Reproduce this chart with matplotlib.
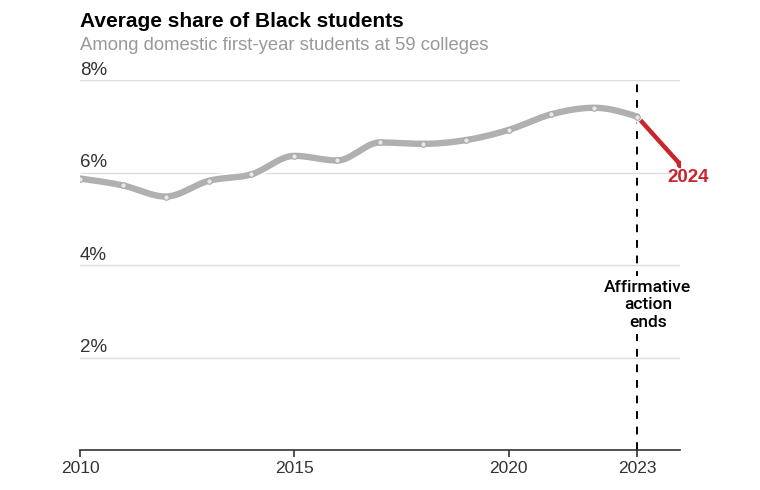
import numpy as np
import matplotlib
matplotlib.use("Agg")
import matplotlib.pyplot as plt
import matplotlib.patheffects as pe

years = [2010, 2011, 2012, 2013, 2014, 2015, 2016, 2017, 2018, 2019, 2020, 2021, 2022, 2023, 2024]
share = [5.87, 5.72, 5.48, 5.82, 5.96, 6.36, 6.26, 6.65, 6.62, 6.70, 6.92, 7.26, 7.40, 7.21, 6.18]
y_ticks = [2, 4, 6, 8]
y_tick_labels = ["2%", "4%", "6%", "8%"]
x_ticks = [2010, 2015, 2020, 2023]
x_tick_labels = ["2010", "2015", "2020", "2023"]
title = "Average share of Black students"
subtitle = "Among domestic first-year students at 59 colleges"
event_year = 2023
event_label = "Affirmative\naction\nends"
last_label = "2024"

GRAY = "#b0b0b0"
RED = "#c9252c"
FONT = ["Liberation Sans", "DejaVu Sans"]
plt.rcParams["font.family"] = FONT


def monotone(x, y, n=30):
    x = np.asarray(x, float); y = np.asarray(y, float)
    h = np.diff(x); s = np.diff(y) / h
    m = np.zeros_like(y)
    for k in range(1, len(x) - 1):
        p = (s[k - 1] * h[k] + s[k] * h[k - 1]) / (h[k - 1] + h[k])
        m[k] = (np.sign(s[k - 1]) + np.sign(s[k])) * min(abs(s[k - 1]), abs(s[k]), 0.5 * abs(p))
    m[0] = (3 * s[0] - m[1]) / 2
    m[-1] = (3 * s[-1] - m[-2]) / 2
    xs, ys = [], []
    for k in range(len(x) - 1):
        t = np.linspace(0, 1, n, endpoint=(k == len(x) - 2))
        h00 = 2 * t**3 - 3 * t**2 + 1
        h10 = t**3 - 2 * t**2 + t
        h01 = -2 * t**3 + 3 * t**2
        h11 = t**3 - t**2
        xs.append(x[k] + t * h[k])
        ys.append(h00 * y[k] + h10 * h[k] * m[k] + h01 * y[k + 1] + h11 * h[k] * m[k + 1])
    return np.concatenate(xs), np.concatenate(ys)


fig = plt.figure(figsize=(7.6, 4.9), dpi=100)
W, H = 760, 490
ax = fig.add_axes([80 / W, (H - 450) / H, 600 / W, 370 / H])
ax.set_xlim(2010, 2024)
ax.set_ylim(0, 8)

for s in ["top", "right", "left"]:
    ax.spines[s].set_visible(False)
ax.spines["bottom"].set_color("#333333")
ax.spines["bottom"].set_linewidth(1.2)
ax.set_yticks(y_ticks)
ax.set_yticklabels([])
ax.tick_params(axis="y", length=0)
ax.grid(axis="y", color="#dddddd", linewidth=1)
ax.set_axisbelow(True)
ax.set_xticks(x_ticks)
ax.set_xticklabels(x_tick_labels, fontsize=12.5, color="#333333")
ax.tick_params(axis="x", length=5, width=1.2, color="#333333", pad=3)

for v, lab in zip(y_ticks, y_tick_labels):
    ax.text(2010, v + 0.03, lab, fontsize=13.5, color="#333333", ha="left", va="bottom",
            transform=ax.transData)

# event line
ax.axvline(event_year, color="black", linewidth=1.4, linestyle=(0, (4, 4)), zorder=2)
ax.text(event_year + 0.25, 3.14, event_label, ha="center", va="center", fontsize=12.5,
        color="black", linespacing=1.2, zorder=6, family=["Roboto", "DejaVu Sans"],
        fontweight="medium",
        bbox=dict(facecolor="white", edgecolor="none", pad=3))

# red segment
ax.plot(years[-2:], share[-2:], color=RED, linewidth=3.2, solid_capstyle="butt", zorder=3,
        path_effects=[pe.Stroke(linewidth=6.5, foreground="white"), pe.Normal()])
ax.plot([years[-1]], [share[-1]], "o", color=RED, markersize=4.5, zorder=4)

# gray curve
gx, gy = monotone(years[:-1], share[:-1])
ax.plot(gx, gy, color=GRAY, linewidth=4.6, solid_capstyle="round", zorder=4,
        path_effects=[pe.Stroke(linewidth=7.5, foreground="white"), pe.Normal()])
ax.plot(years[:-1], share[:-1], "o", markersize=4, markerfacecolor="#e8e8e8",
        markeredgecolor="#a8a8a8", markeredgewidth=0.8, zorder=5)

ax.text(years[-1] + 0.2, share[-1] - 0.1, last_label, color=RED, fontsize=13.5,
        fontweight="bold", ha="center", va="top", zorder=6)

fig.text(80 / W, 1 - 27 / H, title, fontsize=15, fontweight="bold", color="black",
         ha="left", va="baseline")
fig.text(80 / W, 1 - 50 / H, subtitle, fontsize=13.3, color="#999999",
         ha="left", va="baseline")

fig.savefig("out.png", dpi=100, facecolor="white")
